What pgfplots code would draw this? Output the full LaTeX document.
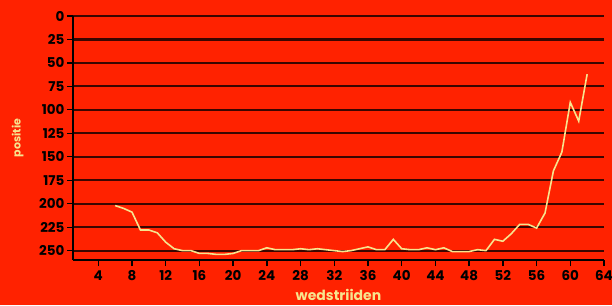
\documentclass[border=0pt]{standalone}
\usepackage{pgfplots}
\pgfplotsset{compat=1.18}
\usepackage{fontspec}
\setmainfont{Poppins}
\definecolor{bg}{HTML}{FF2200}
\definecolor{curve}{HTML}{F7E48E}
\definecolor{gridc}{HTML}{3A0600}
\begin{document}
\begin{tikzpicture}[x=1pt,y=1pt]
\fill[bg] (0,0) rectangle (612,305);
\useasboundingbox (0,0) rectangle (612,305);
\begin{axis}[
  at={(73pt,289pt)}, anchor=north west,
  scale only axis, width=531pt, height=244pt,
  xmin=1, xmax=64, ymin=0, ymax=260,
  y dir=reverse,
  axis x line*=bottom, axis y line*=left,
  axis line style={black, line width=1.8pt, -},
  xtick={4,8,...,64}, ytick={0,25,...,250},
  ymajorgrids, grid style={gridc, line width=2.2pt},
  tick style={black, line width=1.3pt},
  tick align=outside, major tick length=6pt,
  /pgf/number format/assume math mode=true,
  ticklabel style={font=\fontsize{13.5}{15}\selectfont\bfseries, text=black},
  yticklabel style={xshift=1pt},
  xticklabel style={yshift=-1pt},
  ylabel={positie}, xlabel={wedstriiden},
  label style={font=\fontsize{11}{13}\selectfont\bfseries, text=curve},
  ylabel style={at={(axis description cs:-0.104,0.5)}, anchor=center, rotate=0},
  xlabel style={at={(axis description cs:0.5,-0.142)}, anchor=center, font=\fontsize{14}{16}\selectfont\bfseries},
  clip=false,
]
\addplot[curve, line width=1.6pt] coordinates {
(6,202) (7,205) (8,209) (9,228) (10,228) (11,231) (12,241) (13,248) (14,250) (15,250)
(16,253) (17,253) (18,254) (19,254) (20,253) (21,250) (22,250) (23,250) (24,247) (25,249)
(26,249) (27,249) (28,248) (29,249) (30,248) (31,249) (32,250) (33,251) (34,250) (35,248)
(36,246) (37,249) (38,249) (39,238) (40,248) (41,249) (42,249) (43,247) (44,249) (45,247)
(46,251) (47,251) (48,251) (49,249) (50,250) (51,238) (52,240) (53,232) (54,222) (55,222)
(56,226) (57,210) (58,165) (59,145) (60,92) (61,112) (62,62)
};
\end{axis}
\end{tikzpicture}
\end{document}
